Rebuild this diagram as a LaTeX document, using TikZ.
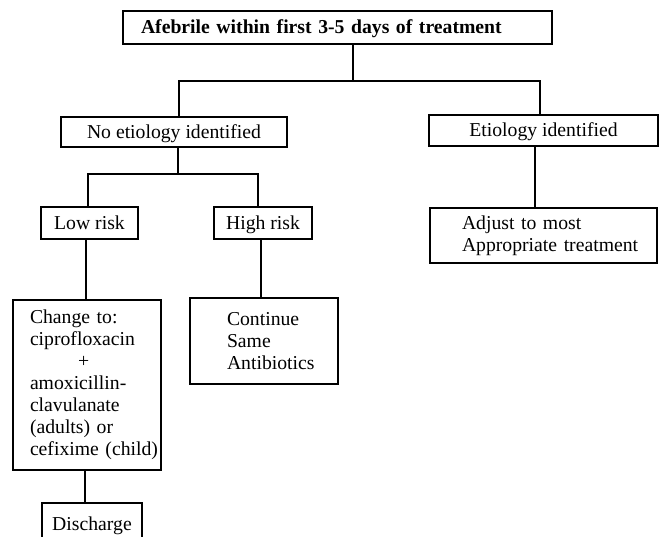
\documentclass[tikz,border=0pt]{standalone}
\usepackage{fontspec}
\setmainfont{Liberation Serif}
\usepackage{tikz}

\newcommand{\flowfont}{\fontsize{19.7pt}{22pt}\selectfont}

\tikzset{
  box/.style={rectangle, draw=black, line width=1.8pt, inner ysep=2pt,
              font=\flowfont, align=center, text height=15pt, text depth=3pt},
  listbox/.style={box, align=left, text height=, text depth=},
  conn/.style={draw=black, line width=1.8pt},
}

\begin{document}
\begin{tikzpicture}[x=1pt, y=-1pt]
  \useasboundingbox (0,0) rectangle (664,536);
  \clip (0,0) rectangle (664,536);

  % top level
  \node[box, align=left, font=\flowfont\bfseries, minimum width=429pt, minimum height=33pt,
        text width=393pt, inner xsep=18pt] (top) at (337.5,27.5)
    {Afebrile within first 3-5 days of treatment};

  \node[box, minimum width=226pt, minimum height=30pt] (noet) at (174,132)
    {No etiology identified};
  \node[box, minimum width=229pt, minimum height=31pt] (etid) at (543.5,130.5)
    {Etiology identified};

  % risk groups
  \node[box, minimum width=97pt, minimum height=32pt] (low) at (89.5,223) {Low risk};
  \node[box, minimum width=98pt, minimum height=32pt] (high) at (263,223) {High risk};

  \node[listbox, minimum width=148pt, minimum height=170pt, text width=114pt,
        inner xsep=16pt] (change) at (87,385)
    {Change to:\\ ciprofloxacin\\ \hspace*{48pt}+\\ amoxicillin-\\ clavulanate\\
     (adults) or\\ \mbox{cefixime (child)}};
  \node[listbox, minimum width=148pt, minimum height=86pt, text width=74pt,
        inner xsep=37pt] (cont) at (264,341)
    {Continue\\ Same\\ \mbox{Antibiotics}};
  \node[listbox, minimum width=227pt, minimum height=55pt, text width=163pt,
        inner xsep=32pt] (adj) at (543.5,235.5)
    {Adjust to most\\ \mbox{Appropriate treatment}};

  \node[box, anchor=north, minimum width=100pt, minimum height=44pt] (disch) at (92,502)
    {Discharge};

  % connectors
  \coordinate (j0) at (353,81);
  \coordinate (j1) at (178,174);
  \draw[conn] (top.south -| j0) -- (j0);
  \draw[conn] ([xshift=5pt]noet.north) |- (j0) -| ([xshift=-3.5pt]etid.north);
  \draw[conn] (noet.south -| j1) -- (j1);
  \draw[conn] ([xshift=-1.5pt]low.north) |- (j1) -| ([xshift=-5pt]high.north);
  \draw[conn] ([xshift=-1pt]change.north |- low.south) -- ([xshift=-1pt]change.north);
  \draw[conn] ([xshift=-3pt]cont.north |- high.south) -- ([xshift=-3pt]cont.north);
  \draw[conn] ([xshift=-8.5pt]etid.south) -- ([xshift=-8.5pt]adj.north);
  \draw[conn] ([xshift=-2pt]change.south) -- ([xshift=-2pt]change.south |- disch.north);
\end{tikzpicture}
\end{document}
